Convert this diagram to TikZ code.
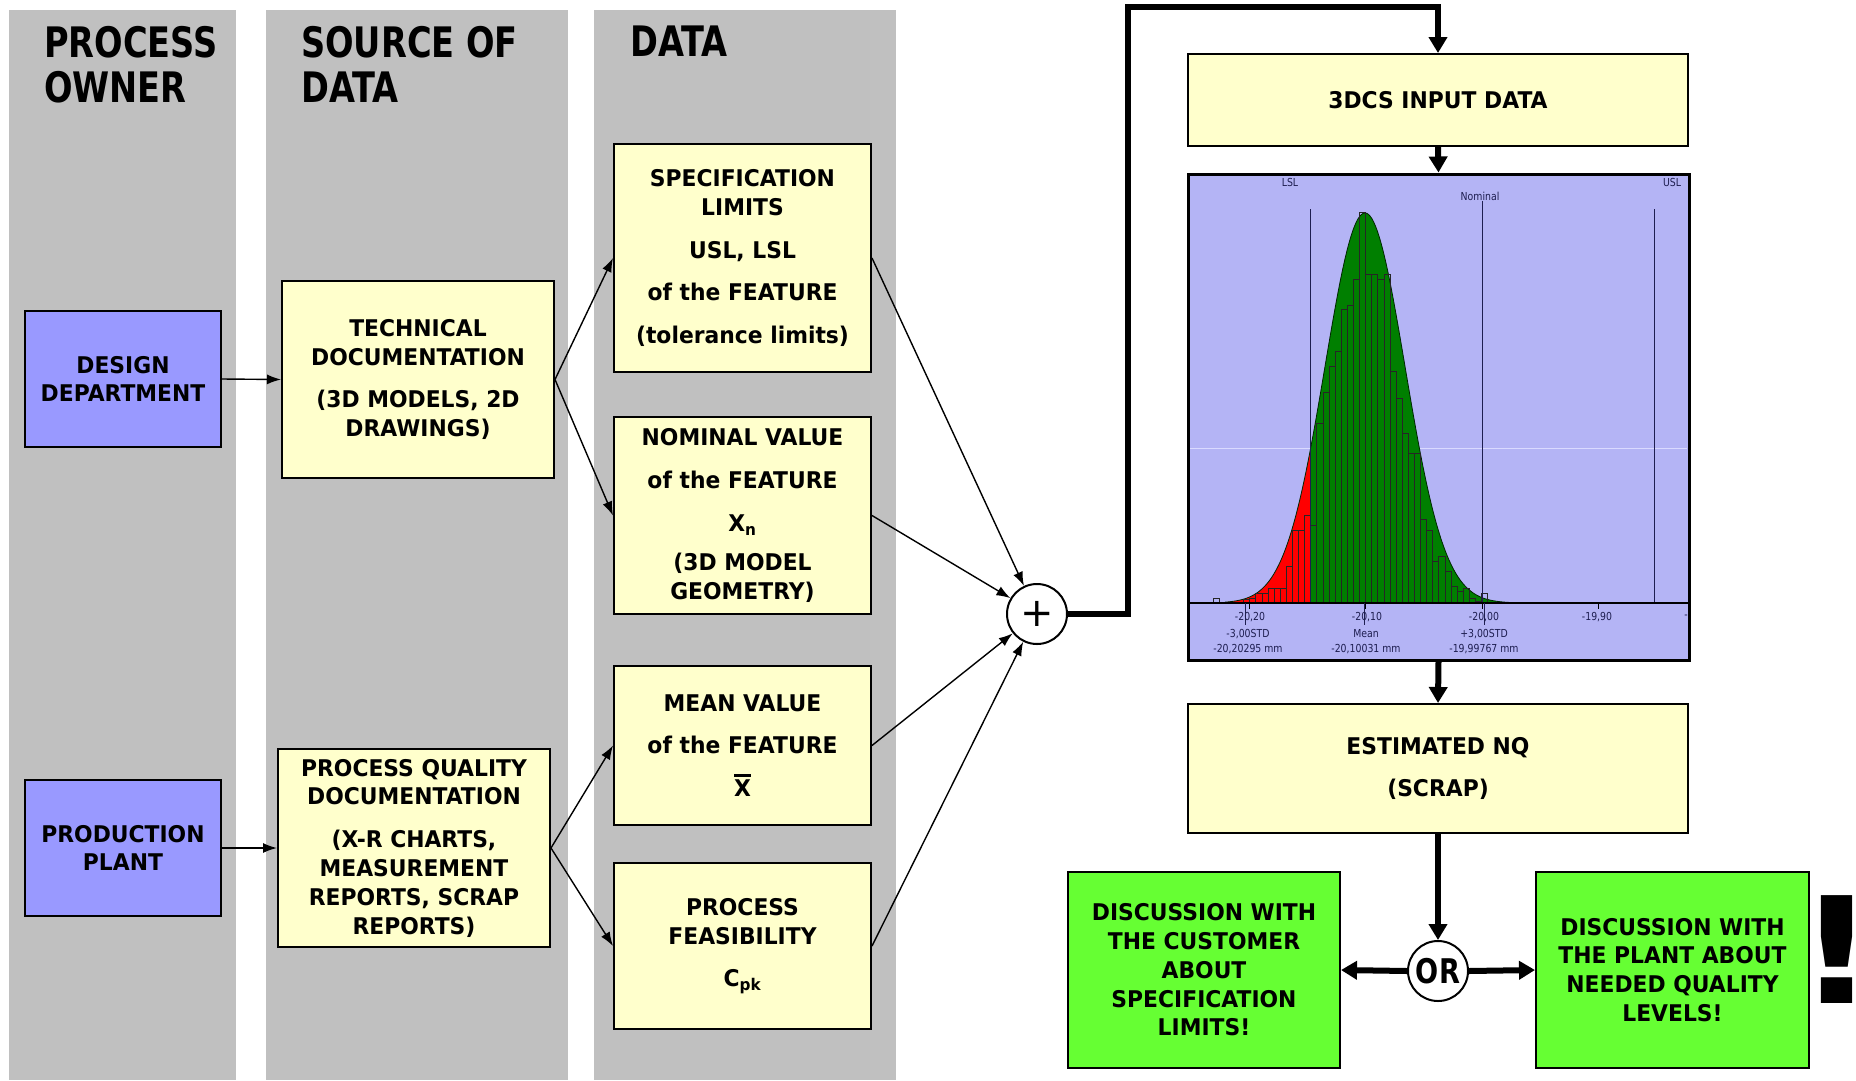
\documentclass[tikz,border=0pt]{standalone}
\usepackage{fontspec}
\usetikzlibrary{arrows.meta}
\setmainfont{DejaVu Sans}
\newfontfamily\bodyfont[FakeStretch=0.95]{DejaVu Sans}
\newfontfamily\headfont[FakeStretch=0.8]{DejaVu Sans}
\newfontfamily\chartfont[FakeStretch=0.85]{DejaVu Sans}
\newfontfamily\bangfont[FakeStretch=1.2]{DejaVu Sans}

% letter with a heavy bar above it (sample mean)
\newcommand{\overbarred}[1]{\setbox0=\hbox{#1}%
  \vbox{\hrule height 2.6pt depth 0pt width \wd0\vskip 3pt\box0}}

\definecolor{lanegray}{HTML}{C0C0C0}
\definecolor{paleyellow}{HTML}{FFFFCC}
\definecolor{ownerblue}{HTML}{9999FF}
\definecolor{actgreen}{HTML}{66FF33}
\definecolor{chartbg}{HTML}{B4B4F5}
\definecolor{okgreen}{HTML}{007F00}
\definecolor{chartink}{HTML}{1E1E50}
\definecolor{gridline}{HTML}{DADAFF}

\tikzset{
  headtext/.style={anchor=north west, inner sep=0pt, align=left,
    font=\headfont\bfseries\fontsize{42}{45}\selectfont},
  box/.style={draw=black, line width=2pt, align=center, inner sep=0pt,
    font=\bodyfont\bfseries\fontsize{23}{28.8}\selectfont},
  ybox/.style={box, fill=paleyellow},
  bbox/.style={box, fill=ownerblue},
  gbox/.style={box, fill=actgreen},
  feed/.style={line width=1.4pt, -{Latex[length=14pt,width=10pt]}},
  flow/.style={line width=6pt, line join=miter, -{Triangle[length=16pt,width=18pt]}},
  joint/.style={circle, draw=black, line width=2pt, fill=white,
    minimum size=60pt, inner sep=0pt},
  clabel/.style={inner sep=0pt, text=chartink,
    font=\chartfont\fontsize{11}{12}\selectfont},
  bar/.style={draw=black!85, line width=0.7pt},
  limitline/.style={draw=chartink, line width=1pt},
}

\begin{document}
\begin{tikzpicture}[x=1pt,y=-1pt]
\useasboundingbox (0,0) rectangle (1856,1080);

% swim lanes
\fill[lanegray] (9,10) rectangle (236,1080);
\fill[lanegray] (266,10) rectangle (568,1080);
\fill[lanegray] (594,10) rectangle (896,1080);

\node[headtext] (hOwner) at (44,26) {PROCESS\\OWNER};
\node[headtext] (hSource) at (301,26) {SOURCE OF\\DATA};
\node[headtext] (hData) at (630,26) {DATA};

% process owners
\node[bbox, minimum width=196pt, minimum height=136pt] (design) at (123,379)
  {DESIGN\\DEPARTMENT};
\node[bbox, minimum width=196pt, minimum height=136pt] (plant) at (123,848)
  {PRODUCTION\\PLANT};

% sources of data
\node[ybox, minimum width=272pt, minimum height=197pt] (techdoc) at (418,379.5)
  {TECHNICAL\\DOCUMENTATION\\[14pt](3D MODELS, 2D\\DRAWINGS)};
\node[ybox, minimum width=272pt, minimum height=198pt] (qualdoc) at (414,848)
  {PROCESS QUALITY\\DOCUMENTATION\\[14pt](X-R CHARTS,\\MEASUREMENT\\REPORTS, SCRAP\\REPORTS)};

% data
\node[ybox, minimum width=257pt, minimum height=228pt] (spec) at (742.5,258)
  {SPECIFICATION\\LIMITS\\[14pt]USL, LSL\\[14pt]of the FEATURE\\[14pt](tolerance limits)};
\node[ybox, minimum width=257pt, minimum height=197pt] (nominal) at (742.5,515.5)
  {NOMINAL VALUE\\[14pt]of the FEATURE\\[14pt]X\textsubscript{n}\\[10pt](3D MODEL\\GEOMETRY)};
\node[ybox, minimum width=257pt, minimum height=159pt] (mean) at (742.5,745.5)
  {MEAN VALUE\\[14pt]of the FEATURE\\[14pt]\overbarred{X}};
\node[ybox, minimum width=257pt, minimum height=166pt] (feas) at (742.5,946)
  {PROCESS\\FEASIBILITY\\[14pt]C\textsubscript{pk}};

% combination
\node[joint, font=\fontsize{40}{40}\selectfont] (plus) at (1037,614) {+};

\draw[feed] (design.east) -- (techdoc.west);
\draw[feed] (plant.east) -- (qualdoc.west);
\draw[feed] (techdoc.east) -- (spec.west);
\draw[feed] (techdoc.east) -- (nominal.west);
\draw[feed] (qualdoc.east) -- (mean.west);
\draw[feed] (qualdoc.east) -- (feas.west);
\draw[feed] (spec.east) -- (plus);
\draw[feed] (nominal.east) -- (plus);
\draw[feed] (mean.east) -- (plus);
\draw[feed] (feas.east) -- (plus);

% simulation side
\node[ybox, minimum width=500pt, minimum height=92pt] (input) at (1438,100)
  {3DCS INPUT DATA};
\node[draw=black, line width=3pt, fill=chartbg, minimum width=501pt,
  minimum height=486pt, inner sep=0pt] (hist) at (1438.5,417) {};
\node[ybox, minimum width=500pt, minimum height=129pt] (est) at (1438,768.5)
  {ESTIMATED NQ\\[14pt](SCRAP)};

% histogram contents
\begin{scope}
  \draw[gridline, line width=0.8pt] (1190,448) -- (1687,448);
  \fill[red] (1225,603) -- plot[domain=1225:1310.7, samples=50]
    (\x,{603-390*exp(-0.5*((\x-1365)/40)^2)}) -- (1310.7,603) -- cycle;
  \fill[okgreen] (1310.7,603) -- plot[domain=1310.7:1510, samples=120]
    (\x,{603-390*exp(-0.5*((\x-1365)/40)^2)}) -- (1510,603) -- cycle;
  \draw[black!70!okgreen, line width=0.8pt] plot[domain=1225:1510, samples=160]
    (\x,{603-390*exp(-0.5*((\x-1365)/40)^2)});
  \foreach \k/\h in {-16/5,-11/4,-10/5,-9/10,-8/10,-7/15,-6/15,-5/15,-4/36.7,
      -3/72.3,-2/72.3,-1/87.7,0/77.3,1/179.3,2/210.7,3/236.7,4/251.7,5/293.3,
      6/297.3,7/324,8/390.7,9/329,10/329,11/324,12/329,13/231.7,14/205,15/170,
      16/150,17/150,18/83.3,19/72.3,20/41.7,21/46.7,22/31.7,23/16.7,24/11.7,
      25/15,26/5,27/2,28/10}
    \draw[bar] ({1310.7+6.1*\k},603) rectangle ++(6.1,-\h);
  \draw[limitline] (1310.7,209) -- (1310.7,603);
  \draw[limitline] (1482,201) -- (1482,606);
  \draw[limitline] (1654,209) -- (1654,603);
  \draw[black, line width=1.2pt] (1188,603) -- (1689,603);
  \foreach \t in {1249,1365,1482,1598}
    \draw[black, line width=1pt] (\t,603) -- (\t,609);
  \foreach \t in {1245.6,1364.6,1484.7}
    \draw[chartink, line width=1pt] (\t,603) -- (\t,625);
  \node[clabel] (lLSL) at (1290,182) {LSL};
  \node[clabel] (lNom) at (1480,196) {Nominal};
  \node[clabel] (lUSL) at (1672,182) {USL};
  \node[clabel] (t1) at (1250,617) {-20,20};
  \node[clabel] (t2) at (1367,617) {-20,10};
  \node[clabel] (t3) at (1484,617) {-20,00};
  \node[clabel] (t4) at (1597,617) {-19,90};
  \node[clabel] (t5) at (1686,617) {-};
  \node[clabel] (s1) at (1248,634) {-3,00STD};
  \node[clabel] (s2) at (1366,634) {Mean};
  \node[clabel] (s3) at (1484,634) {+3,00STD};
  \node[clabel] (v1) at (1248,649) {-20,20295 mm};
  \node[clabel] (v2) at (1366,649) {-20,10031 mm};
  \node[clabel] (v3) at (1484,649) {-19,99767 mm};
\end{scope}

% decision
\node[joint, font=\headfont\bfseries\fontsize{34}{34}\selectfont] (orjoint) at (1438,971) {OR};
\node[gbox, minimum width=272pt, minimum height=196pt] (customer) at (1204,970)
  {DISCUSSION WITH\\THE CUSTOMER\\ABOUT\\SPECIFICATION\\LIMITS!};
\node[gbox, minimum width=273pt, minimum height=196pt] (planttalk) at (1672.5,970)
  {DISCUSSION WITH\\THE PLANT ABOUT\\NEEDED QUALITY\\LEVELS!};
\node[inner sep=0pt, font=\bangfont\bfseries\fontsize{148}{148}\selectfont] (bang)
  at (1836.5,950) {\makebox[30pt]{!}};

% main flow
\coordinate (riser) at (1128,7);
\draw[flow] (plus.east) -| (riser) -| (input.north);
\draw[flow] (input.south) -- (hist.north);
\draw[flow] (hist.south) -- (est.north);
\draw[flow] (est.south) -- (orjoint.north);
\draw[flow] (orjoint.west) -- (customer.east);
\draw[flow] (orjoint.east) -- (planttalk.west);
\end{tikzpicture}
\end{document}
